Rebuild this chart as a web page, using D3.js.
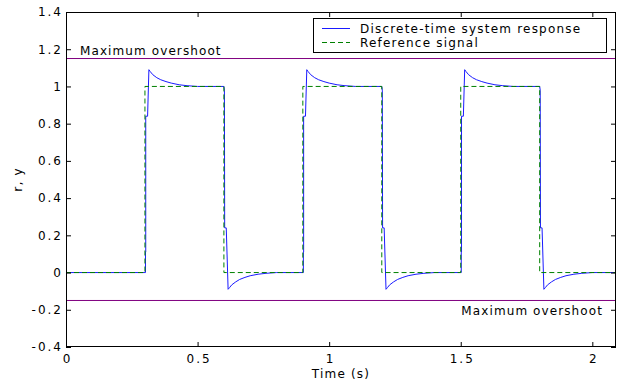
<!DOCTYPE html>
<html>
<head>
<meta charset="utf-8">
<script src="https://cdn.jsdelivr.net/npm/d3@7"></script>
<style>
  html, body { margin: 0; padding: 0; background: #fff; }
  svg { display: block; }
  text { font-family: "DejaVu Sans", sans-serif; fill: #000; }
</style>
</head>
<body>
<svg id="chart" width="628" height="386"></svg>
<script>
// ---------------- data ----------------
const xDomain = [0, 2.09];
const yDomain = [-0.4, 1.4];
const xTicks = [0, 0.5, 1, 1.5, 2];
const xTickLabels = ["0", "0.5", "1", "1.5", "2"];
const yTicks = [-0.4, -0.2, 0, 0.2, 0.4, 0.6, 0.8, 1, 1.2, 1.4];
const yTickLabels = ["-0.4", "-0.2", "0", "0.2", "0.4", "0.6", "0.8", "1", "1.2", "1.4"];

// reference signal (square wave)
const refT = [0, 0.3, 0.3, 0.6, 0.6, 0.9, 0.9, 1.2, 1.2, 1.5, 1.5, 1.8, 1.8, 2.09];
const refY = [0, 0, 1, 1, 0, 0, 1, 1, 0, 0, 1, 1, 0, 0];

// discrete-time system response
const respT = [
  0.000, 0.300, 0.302, 0.302, 0.303, 0.303, 0.310, 0.315, 0.320, 0.330, 0.345, 0.360, 0.380, 0.400, 0.430, 0.460, 0.500,
  0.600, 0.602, 0.603, 0.609, 0.616, 0.622, 0.630, 0.645, 0.660, 0.680, 0.700, 0.730, 0.760, 0.800,
  0.900, 0.902, 0.902, 0.903, 0.903, 0.910, 0.915, 0.920, 0.930, 0.945, 0.960, 0.980, 1.000, 1.030, 1.060, 1.100,
  1.200, 1.202, 1.203, 1.209, 1.216, 1.222, 1.230, 1.245, 1.260, 1.280, 1.300, 1.330, 1.360, 1.400,
  1.500, 1.502, 1.502, 1.503, 1.503, 1.510, 1.515, 1.520, 1.530, 1.545, 1.560, 1.580, 1.600, 1.630, 1.660, 1.700,
  1.800, 1.802, 1.803, 1.809, 1.816, 1.822, 1.830, 1.845, 1.860, 1.880, 1.900, 1.930, 1.960, 2.000, 2.090
];
const respY = [
  0, 0, 0, 0.11, 0.11, 0.84, 0.84, 1.09, 1.08, 1.063, 1.047, 1.036, 1.026, 1.018, 1.009, 1.004, 1.0,
  1.0, 0.98, 0.24, 0.24, -0.09, -0.08, -0.066, -0.05, -0.037, -0.026, -0.017, -0.009, -0.004, 0,
  0, 0, 0.11, 0.11, 0.84, 0.84, 1.09, 1.08, 1.063, 1.047, 1.036, 1.026, 1.018, 1.009, 1.004, 1.0,
  1.0, 0.98, 0.24, 0.24, -0.09, -0.08, -0.066, -0.05, -0.037, -0.026, -0.017, -0.009, -0.004, 0,
  0, 0, 0.11, 0.11, 0.84, 0.84, 1.09, 1.08, 1.063, 1.047, 1.036, 1.026, 1.018, 1.009, 1.004, 1.0,
  1.0, 0.98, 0.24, 0.24, -0.09, -0.08, -0.066, -0.05, -0.037, -0.026, -0.017, -0.009, -0.004, 0, 0
];

// overshoot limits
const overshootLevels = [1.15, -0.15];
const overshootLabels = ["Maximum overshoot", "Maximum overshoot"];
const legendLabels = ["Discrete-time system response", "Reference signal"];

// ---------------- layout ----------------
const svg = d3.select("#chart");
const M = { left: 66, top: 12, right: 616, bottom: 347 };

const x = d3.scaleLinear().domain(xDomain).range([M.left, M.right]);
const y = d3.scaleLinear().domain(yDomain).range([M.bottom, M.top]);

const blue = "#1a1aff";
const green = "#008000";
const purple = "#800080";

// frame background
svg.append("rect")
  .attr("x", M.left).attr("y", M.top)
  .attr("width", M.right - M.left).attr("height", M.bottom - M.top)
  .attr("fill", "#fff");

// overshoot lines
svg.selectAll(".os").data(overshootLevels).enter().append("line")
  .attr("x1", M.left).attr("x2", M.right)
  .attr("y1", d => y(d)).attr("y2", d => y(d))
  .attr("stroke", purple).attr("stroke-width", 1);

// response
const respData = respT.map((t, i) => [t, respY[i]]);
const refData = refT.map((t, i) => [t, refY[i]]);
const line = d3.line().x(d => x(d[0])).y(d => y(d[1]));

svg.append("path").datum(respData)
  .attr("d", line).attr("fill", "none")
  .attr("stroke", blue).attr("stroke-width", 1);

svg.append("path").datum(refData)
  .attr("d", line).attr("fill", "none")
  .attr("stroke", green).attr("stroke-width", 1)
  .attr("stroke-dasharray", "5,3");

// overshoot labels
svg.append("text")
  .attr("x", 80).attr("y", y(overshootLevels[0]) - 3.5)
  .attr("font-size", 12).attr("letter-spacing", 1.1)
  .text(overshootLabels[0]);
svg.append("text")
  .attr("x", 603).attr("y", y(overshootLevels[1]) + 15)
  .attr("text-anchor", "end")
  .attr("font-size", 12).attr("letter-spacing", 1.1)
  .text(overshootLabels[1]);

// axes (ticks inside, MATLAB style)
const fmtX = (d, i) => xTickLabels[xTicks.indexOf(d)];
const fmtY = (d) => yTickLabels[yTicks.indexOf(d)];

const gB = svg.append("g").attr("transform", `translate(0,${M.bottom})`)
  .call(d3.axisBottom(x).tickValues(xTicks).tickFormat(fmtX).tickSize(-5).tickPadding(7));
const gT = svg.append("g").attr("transform", `translate(0,${M.top})`)
  .call(d3.axisTop(x).tickValues(xTicks).tickFormat("").tickSize(-5));
const gL = svg.append("g").attr("transform", `translate(${M.left},0)`)
  .call(d3.axisLeft(y).tickValues(yTicks).tickFormat(fmtY).tickSize(-5).tickPadding(3));
const gR = svg.append("g").attr("transform", `translate(${M.right},0)`)
  .call(d3.axisRight(y).tickValues(yTicks).tickFormat("").tickSize(-5));

[gB, gT, gL, gR].forEach(g => {
  g.select(".domain").remove();
  g.selectAll(".tick line").attr("stroke", "#000");
  g.selectAll(".tick text")
    .attr("font-family", "DejaVu Sans, sans-serif")
    .attr("font-size", 12)
    .attr("letter-spacing", 2)
    .attr("fill", "#000");
});
gB.selectAll(".tick text").attr("dx", "1");

// frame
svg.append("rect")
  .attr("x", M.left + 0.5).attr("y", M.top + 0.5)
  .attr("width", M.right - M.left - 1).attr("height", M.bottom - M.top - 1)
  .attr("fill", "none").attr("stroke", "#000").attr("stroke-width", 1);

// axis labels
svg.append("text")
  .attr("x", (M.left + M.right) / 2).attr("y", 378)
  .attr("text-anchor", "middle")
  .attr("font-size", 12).attr("letter-spacing", 1.2)
  .text("Time (s)");
svg.append("text")
  .attr("transform", `translate(22,${(M.top + M.bottom) / 2}) rotate(-90)`)
  .attr("text-anchor", "middle")
  .attr("font-size", 12).attr("letter-spacing", 1.2)
  .text("r, y");

// legend
const lg = svg.append("g");
lg.append("rect")
  .attr("x", 313.5).attr("y", 18.5).attr("width", 293).attr("height", 34)
  .attr("fill", "#fff").attr("stroke", "#000").attr("stroke-width", 1);
const legendStyles = [
  { color: blue, dash: null },
  { color: green, dash: "5,3" }
];
legendLabels.forEach((lab, i) => {
  const yy = 28.5 + i * 14;
  lg.append("line")
    .attr("x1", 322).attr("x2", 350).attr("y1", yy).attr("y2", yy)
    .attr("stroke", legendStyles[i].color).attr("stroke-width", 1)
    .attr("stroke-dasharray", legendStyles[i].dash);
  lg.append("text")
    .attr("x", 360).attr("y", yy + 4.5)
    .attr("font-size", 12).attr("letter-spacing", 1.2)
    .text(lab);
});
</script>
</body>
</html>
